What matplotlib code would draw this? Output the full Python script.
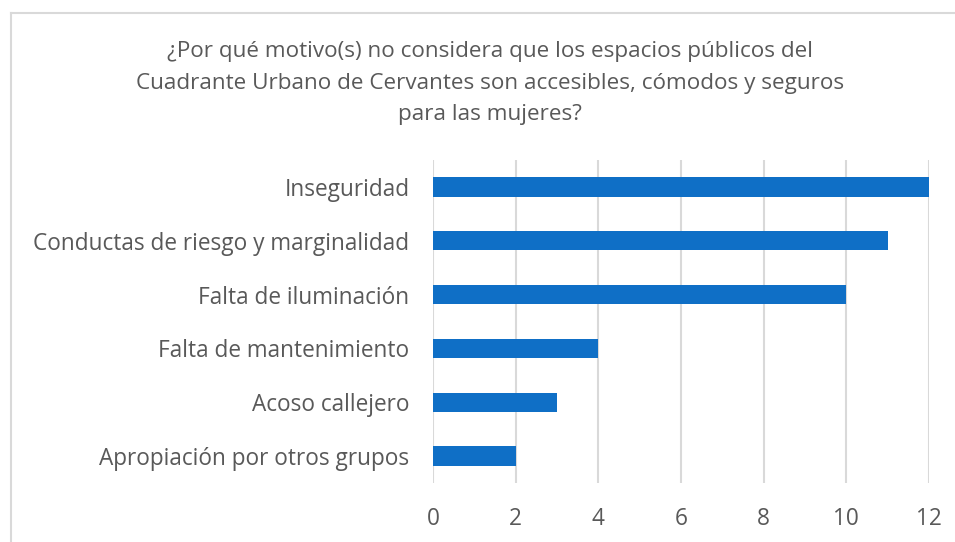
import matplotlib.pyplot as plt
from matplotlib.lines import Line2D

categorias = [
    "Apropiación por otros grupos",
    "Acoso callejero",
    "Falta de mantenimiento",
    "Falta de iluminación",
    "Conductas de riesgo y marginalidad",
    "Inseguridad",
]
valores = [2, 3, 4, 10, 11, 12]
ticks_x = [0, 2, 4, 6, 8, 10, 12]
titulo = ("¿Por qué motivo(s) no considera que los espacios públicos del\n"
          "Cuadrante Urbano de Cervantes son accesibles, cómodos y seguros\n"
          "para las mujeres?")

plt.rcParams["font.family"] = ["Open Sans", "DejaVu Sans"]
texto = "#595959"
rejilla = "#d9d9d9"

fig = plt.figure(figsize=(9.55, 5.42), dpi=100)
ax = fig.add_axes([433 / 955, 1 - 483 / 542, 496 / 955, 323 / 542])

ax.barh(range(len(categorias)), valores, height=0.36, color="#0F6FC6", zorder=3)
ax.set_xlim(0, 12)
ax.set_ylim(-0.5, len(categorias) - 0.5)
ax.set_xticks(ticks_x)
ax.set_yticks(range(len(categorias)))
ax.set_yticklabels(categorias)
ax.grid(axis="x", color=rejilla, linewidth=1.5, zorder=0)
for s in ax.spines.values():
    s.set_visible(False)
ax.tick_params(axis="both", length=0, labelsize=16.3, labelcolor=texto)
ax.tick_params(axis="y", pad=17)
ax.tick_params(axis="x", pad=17)

fig.text(490 / 955, 1 - 83 / 542, titulo, ha="center", va="center",
         fontsize=16.2, color=texto, linespacing=1.67)

# chart border (partially visible)
fig.add_artist(Line2D([11 / 955, 1], [1 - 13 / 542] * 2, color=rejilla, linewidth=1.5))
fig.add_artist(Line2D([11 / 955] * 2, [0, 1 - 13 / 542], color=rejilla, linewidth=1.5))

fig.savefig("out.png", dpi=100)
